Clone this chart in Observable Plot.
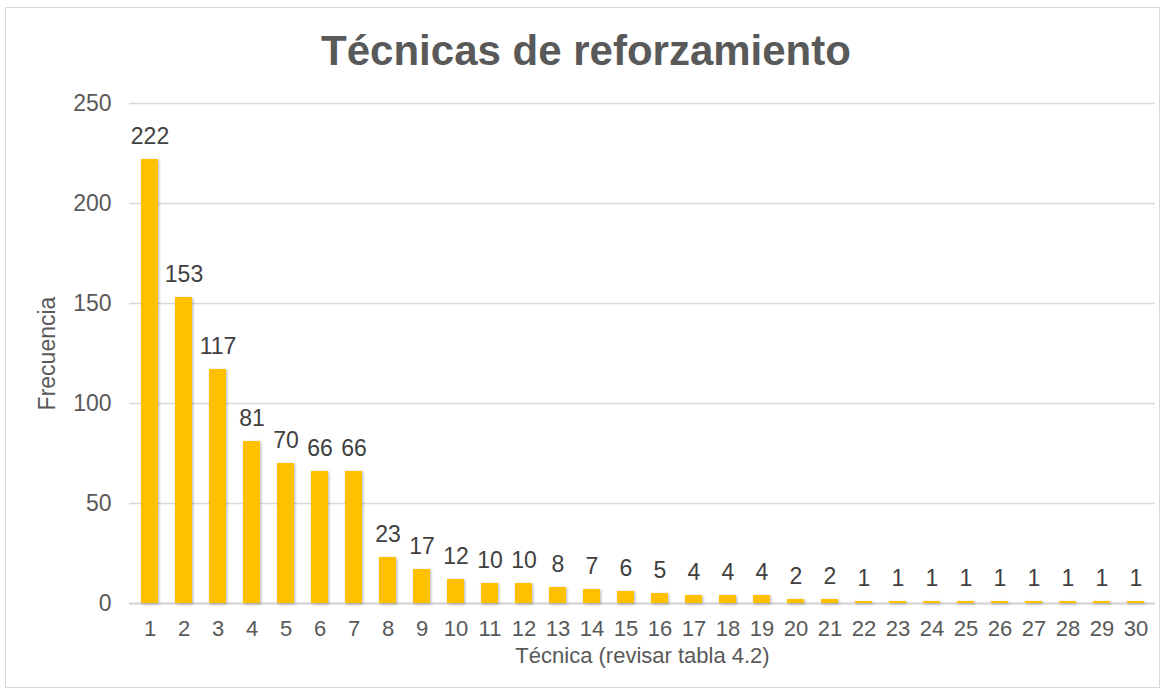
<!DOCTYPE html>
<html><head><meta charset="utf-8">
<script src="https://cdn.jsdelivr.net/npm/d3@7"></script>
<script src="https://cdn.jsdelivr.net/npm/@observablehq/plot@0.6"></script>
<style>
body{margin:0;background:#fff;font-family:"Liberation Sans",Arial,Helvetica,sans-serif;}
#wrap{position:relative;width:1172px;height:700px;overflow:hidden;}
#frame{position:absolute;left:5px;top:7px;width:1155px;height:681px;border:1.5px solid #d9d9d9;box-sizing:border-box;}
#title{position:absolute;left:0;width:1172px;top:30px;line-height:1;text-align:center;font-weight:bold;font-size:42px;color:#595959;}
#chart{position:absolute;left:0;top:80px;}
#chart g[aria-label="bar"] rect{filter:drop-shadow(1.5px 1.5px 1.5px rgba(0,0,0,0.3));}
</style></head><body>
<div id="wrap"><div id="frame"></div><div id="title">Técnicas de reforzamiento</div><div id="chart"></div></div>
<script>
const tecnicas = [1,2,3,4,5,6,7,8,9,10,11,12,13,14,15,16,17,18,19,20,21,22,23,24,25,26,27,28,29,30];
const frecuencias = [222,153,117,81,70,66,66,23,17,12,10,10,8,7,6,5,4,4,4,2,2,1,1,1,1,1,1,1,1,1];
const yTicks = [0,50,100,150,200,250];
const xTitle = "Técnica (revisar tabla 4.2)";
const yTitle = "Frecuencia";

const data = tecnicas.map((t, i) => ({tecnica: t, frecuencia: frecuencias[i]}));

const chart = Plot.plot({
  width: 1172,
  height: 620,
  marginLeft: 129,
  marginRight: 17,
  marginTop: 23,
  marginBottom: 97,
  style: {fontFamily: '"Liberation Sans", Arial, Helvetica, sans-serif', background: "transparent"},
  x: {type: "band", domain: tecnicas, paddingInner: 0.5, paddingOuter: 0.25},
  y: {domain: [0, 250]},
  marks: [
    Plot.gridY(yTicks.filter(d => d > 0), {stroke: "#d9d9d9", strokeOpacity: 1, strokeWidth: 1.5}),
    Plot.ruleY([0], {stroke: "#d9d9d9", strokeWidth: 2.5}),
    Plot.barY(data, {x: "tecnica", y: "frecuencia", fill: "#FFC000"}),
    Plot.text(data, {x: "tecnica", y: "frecuencia", text: d => String(d.frecuencia), lineAnchor: "bottom", dy: -16, fontSize: 23, fill: "#404040"}),
    Plot.axisY({ticks: yTicks, tickSize: 0, tickPadding: 18, fontSize: 23, color: "#595959", label: yTitle, labelAnchor: "center", labelArrow: "none", labelOffset: 91}),
    Plot.axisX({tickSize: 0, tickPadding: 17, fontSize: 22, color: "#595959", label: null}),
    Plot.axisX({ticks: [], tickSize: 0, fontSize: 22, color: "#595959", label: xTitle, labelAnchor: "center", labelArrow: "none", labelOffset: 59})
  ]
});
document.getElementById("chart").appendChild(chart);
</script>
</body></html>
